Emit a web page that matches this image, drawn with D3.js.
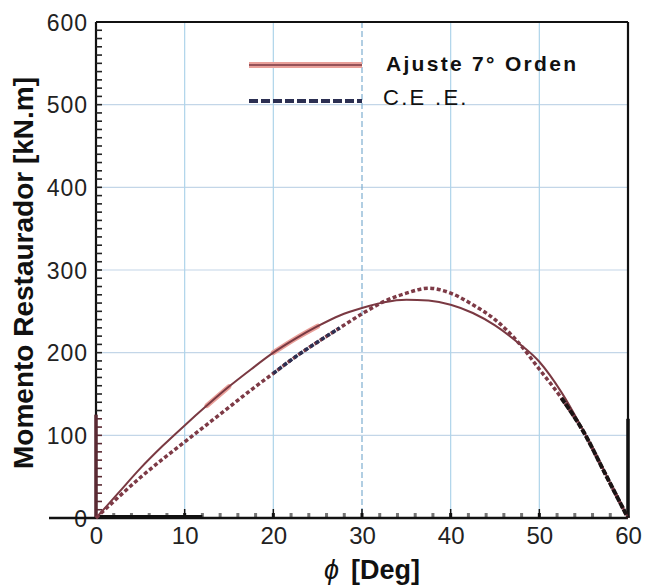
<!DOCTYPE html>
<html>
<head>
<meta charset="utf-8">
<script src="https://cdn.jsdelivr.net/npm/d3@7"></script>
<style>
  body { margin: 0; background: #fff; }
  svg text { font-family: "Liberation Sans", Arial, sans-serif; }
</style>
</head>
<body>
<div id="chart"></div>
<script>
// angle in degrees
var phi = [0, 2.5, 5, 7.5, 10, 12.5, 15, 17.5, 20, 22.5, 25, 27.5, 30, 32.5, 35, 37.5, 40, 42.5, 45, 47.5, 50, 52.5, 55, 57.5, 60];
// Ajuste 7° Orden
var ajuste = [0, 30, 60, 87, 112, 136, 159, 180, 200, 217, 232, 245, 254, 261, 264, 263, 258, 248, 233, 213, 189, 152, 105, 53, 0];
// C.E.E.
var cee = [0, 25, 49, 71, 92, 113, 134, 155, 175, 195, 213, 230, 247, 262, 272, 278, 272, 258, 240, 214, 180, 145, 104, 52, 0];

var xTicks = [0, 10, 20, 30, 40, 50, 60];
var yTicks = [0, 100, 200, 300, 400, 500, 600];
var legendNames = ["Ajuste 7° Orden", "C.E .E."];

var W = 645, H = 586;
var margin = {top: 22, right: 17, bottom: 68, left: 96};
var width = W - margin.left - margin.right,
    height = H - margin.top - margin.bottom;

var svg = d3.select("#chart").append("svg")
    .attr("width", W)
    .attr("height", H);
var g = svg.append("g")
    .attr("transform", "translate(" + margin.left + "," + margin.top + ")");

var x = d3.scaleLinear().domain([0, 60]).range([0, width]);
var y = d3.scaleLinear().domain([0, 600]).range([height, 0]);

// grid
g.append("g").selectAll("line")
  .data(yTicks.slice(1, -1))
  .enter().append("line")
    .attr("x1", 0).attr("x2", width)
    .attr("y1", d => y(d)).attr("y2", d => y(d))
    .attr("stroke", "#c3d6e8").attr("stroke-width", 1.2);
g.append("g").selectAll("line")
  .data(xTicks.slice(1, -1))
  .enter().append("line")
    .attr("x1", d => x(d)).attr("x2", d => x(d))
    .attr("y1", 0).attr("y2", height)
    .attr("stroke", d => d == 30 ? "#7eaed0" : "#aed4ea")
    .attr("stroke-width", 1.2)
    .attr("stroke-dasharray", d => d == 30 ? "6,3" : null);

// frame top/right
g.append("line").attr("x1", 0).attr("x2", width).attr("y1", 0).attr("y2", 0)
  .attr("stroke", "#111").attr("stroke-width", 2.2);
g.append("line").attr("x1", width).attr("x2", width).attr("y1", 0).attr("y2", height)
  .attr("stroke", "#111").attr("stroke-width", 2.2);
g.append("line").attr("x1", width).attr("x2", width).attr("y1", y(120)).attr("y2", height)
  .attr("stroke", "#111").attr("stroke-width", 3.5);

// y axis line + inward minor ticks
g.append("line").attr("x1", 0).attr("x2", 0).attr("y1", 0).attr("y2", height)
  .attr("stroke", "#111").attr("stroke-width", 2.2);
g.append("g").selectAll("line")
  .data(d3.range(10, 600, 10))
  .enter().append("line")
    .attr("x1", 0).attr("x2", 6)
    .attr("y1", d => y(d)).attr("y2", d => y(d))
    .attr("stroke", d => d <= 120 ? "#5a2a33" : "#222")
    .attr("stroke-width", 1.6);
g.append("line").attr("x1", 0).attr("x2", 0).attr("y1", y(125)).attr("y2", height)
  .attr("stroke", "#5a2a33").attr("stroke-width", 3.5);

var yAx = g.append("g")
  .call(d3.axisLeft(y).tickValues(yTicks).tickSize(0).tickPadding(8));
yAx.select(".domain").remove();
yAx.selectAll("text")
  .attr("font-size", 23).attr("fill", "#222").attr("letter-spacing", 1).attr("dy", "0.36em");

// x axis
var xAx = g.append("g")
  .attr("transform", "translate(0," + height + ")")
  .call(d3.axisBottom(x).tickValues(xTicks).tickSize(0).tickPadding(9));
xAx.select(".domain").remove();
xAx.selectAll("text").attr("font-size", 24).attr("fill", "#222").attr("dy", "0.71em");

g.append("g").selectAll("rect")
  .data(d3.range(2, 60, 2))
  .enter().append("rect")
    .attr("x", d => x(d) - 1.5).attr("y", height - 5)
    .attr("width", 3).attr("height", 4)
    .attr("fill", d => d % 10 == 0 ? "#111" : "#777");
g.append("g").selectAll("line")
  .data(xTicks.slice(1, -1))
  .enter().append("line")
    .attr("x1", d => x(d)).attr("x2", d => x(d))
    .attr("y1", height).attr("y2", height - 9)
    .attr("stroke", "#111").attr("stroke-width", 1.5);
g.append("line").attr("x1", -47).attr("x2", width).attr("y1", height).attr("y2", height)
  .attr("stroke", "#111").attr("stroke-width", 2.5);
g.append("line").attr("x1", 0).attr("x2", x(12)).attr("y1", height - 1).attr("y2", height - 1)
  .attr("stroke", "#111").attr("stroke-width", 4);

// curves
var ajData = phi.map((p, i) => [p, ajuste[i]]);
var ceData = phi.map((p, i) => [p, cee[i]]);
var line = d3.line()
  .x(d => x(d[0]))
  .y(d => y(d[1]))
  .curve(d3.curveMonotoneX);

// pink highlights on the fitted curve
[[12, 17], [19, 25]].forEach(function(r) {
  var seg = ajData.filter(d => d[0] >= r[0] && d[0] <= r[1]);
  g.append("path").datum(seg)
    .attr("d", line)
    .attr("fill", "none")
    .attr("stroke", "#e9a09a")
    .attr("stroke-width", 5)
    .attr("stroke-linecap", "round");
});

g.append("path").datum(ajData)
  .attr("d", line)
  .attr("fill", "none")
  .attr("stroke", "#7a3942")
  .attr("stroke-width", 2);

g.append("path").datum(ceData)
  .attr("d", line)
  .attr("fill", "none")
  .attr("stroke", "#7d3a46")
  .attr("stroke-width", 3.5)
  .attr("stroke-dasharray", "4,2.5");

// darker parts of the C.E.E. curve
g.append("path").datum(ceData.filter(d => d[0] >= 20 && d[0] <= 27.5))
  .attr("d", line)
  .attr("fill", "none")
  .attr("stroke", "#2b2f52")
  .attr("stroke-width", 3.5)
  .attr("stroke-dasharray", "4,2.5");
g.append("path").datum(ceData.filter(d => d[0] >= 52.5))
  .attr("d", line)
  .attr("fill", "none")
  .attr("stroke", "#1a1414")
  .attr("stroke-width", 4)
  .attr("stroke-dasharray", "6,1.5");

// legend
var leg = svg.append("g");
leg.append("line").attr("x1", 249).attr("x2", 362).attr("y1", 65).attr("y2", 65)
  .attr("stroke", "#e9a09a").attr("stroke-width", 6);
leg.append("line").attr("x1", 249).attr("x2", 362).attr("y1", 65).attr("y2", 65)
  .attr("stroke", "#7a3942").attr("stroke-width", 1.5);
leg.append("line").attr("x1", 249).attr("x2", 362).attr("y1", 101).attr("y2", 101)
  .attr("stroke", "#2b2f52").attr("stroke-width", 4).attr("stroke-dasharray", "9,3");
leg.selectAll("text")
  .data(legendNames)
  .enter().append("text")
    .attr("x", (d, i) => i == 0 ? 386 : 383)
    .attr("y", (d, i) => i == 0 ? 71 : 105)
    .attr("font-size", (d, i) => i == 0 ? 21 : 22)
    .attr("font-weight", (d, i) => i == 0 ? "bold" : "normal")
    .attr("letter-spacing", 2.3)
    .attr("fill", "#111")
    .text(d => d);

// axis titles
svg.append("text")
  .attr("transform", "translate(33,273) rotate(-90)")
  .attr("text-anchor", "middle")
  .attr("font-size", 28)
  .attr("font-weight", "bold")
  .attr("fill", "#111")
  .text("Momento Restaurador [kN.m]");

var xt = svg.append("text")
  .attr("x", 372).attr("y", 579)
  .attr("text-anchor", "middle")
  .attr("font-size", 27)
  .attr("fill", "#111");
xt.append("tspan").attr("font-style", "italic").text("ϕ");
xt.append("tspan").attr("dx", 12).attr("font-weight", "bold").text("[Deg]");
</script>
</body>
</html>
